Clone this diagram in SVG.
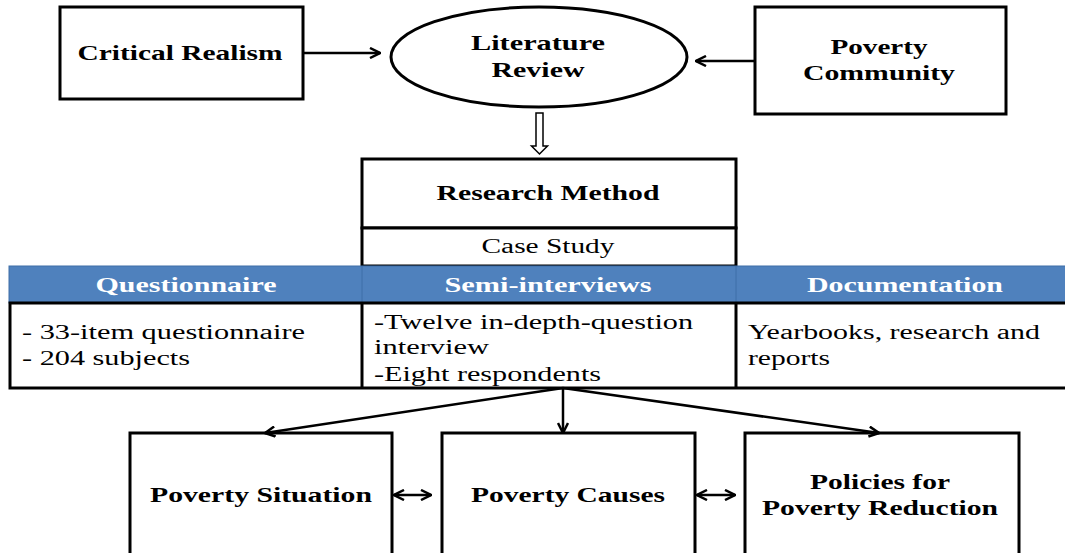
<svg xmlns="http://www.w3.org/2000/svg" width="1065" height="553" viewBox="0 0 1065 553" font-family="Liberation Serif, DejaVu Serif, serif">
  <defs>
    <style>
      .box { fill: #ffffff; stroke: #000000; stroke-width: 3; }
      .ln { fill: none; stroke: #000000; stroke-width: 2.5; }
      .tb { font-weight: bold; font-size: 21px; fill: #000000; }
      .tn { font-size: 20px; fill: #000000; }
      .th { font-weight: bold; font-size: 21px; fill: #ffffff; }
    </style>
    <marker id="arr" viewBox="0 0 12 12" refX="11" refY="6" markerWidth="12" markerHeight="12" markerUnits="userSpaceOnUse" orient="auto-start-reverse">
      <path d="M1,1 L11,6 L1,11" fill="none" stroke="#000000" stroke-width="2.5"/>
    </marker>
  </defs>
  <rect width="1065" height="553" fill="#ffffff"/>

  <g id="critical-realism">
    <rect class="box" x="60" y="7" width="243" height="92"/>
    <text class="tb" x="180" y="60" text-anchor="middle" textLength="205" lengthAdjust="spacingAndGlyphs" font-family="Liberation Serif, serif">Critical Realism</text>
  </g>

  <g id="literature-review">
    <ellipse class="box" cx="539" cy="57" rx="148" ry="50"/>
    <text class="tb" x="538" y="50" text-anchor="middle" textLength="134" lengthAdjust="spacingAndGlyphs">Literature</text>
    <text class="tb" x="538" y="77" text-anchor="middle" textLength="93" lengthAdjust="spacingAndGlyphs">Review</text>
  </g>

  <g id="poverty-community">
    <rect class="box" x="755" y="7" width="251" height="107"/>
    <text class="tb" x="879" y="54" text-anchor="middle" textLength="97" lengthAdjust="spacingAndGlyphs">Poverty</text>
    <text class="tb" x="879" y="80" text-anchor="middle" textLength="152" lengthAdjust="spacingAndGlyphs">Community</text>
  </g>

  <g id="research-method">
    <rect class="box" x="362" y="159" width="374" height="69"/>
    <text class="tb" x="548" y="200" text-anchor="middle" textLength="223" lengthAdjust="spacingAndGlyphs">Research Method</text>
    <rect class="box" x="362" y="228" width="374" height="38"/>
    <text class="tn" x="548" y="253" text-anchor="middle" textLength="133" lengthAdjust="spacingAndGlyphs">Case Study</text>
  </g>

  <g id="methods-table">
    <rect x="9" y="266" width="1066" height="37" fill="#4f81bd" stroke="#3f6fa8" stroke-width="1"/>
    <line x1="362" y1="266" x2="362" y2="303" stroke="#3f6fa8" stroke-width="1"/>
    <line x1="736" y1="266" x2="736" y2="303" stroke="#3f6fa8" stroke-width="1"/>
    <text class="th" x="186" y="292" text-anchor="middle" textLength="181" lengthAdjust="spacingAndGlyphs">Questionnaire</text>
    <text class="th" x="548" y="292" text-anchor="middle" textLength="207" lengthAdjust="spacingAndGlyphs">Semi-interviews</text>
    <text class="th" x="905" y="292" text-anchor="middle" textLength="196" lengthAdjust="spacingAndGlyphs">Documentation</text>
    <rect class="box" x="10" y="303" width="1070" height="85"/>
    <line x1="362" y1="303" x2="362" y2="388" stroke="#000" stroke-width="3"/>
    <line x1="736" y1="303" x2="736" y2="388" stroke="#000" stroke-width="3"/>
    <text class="tn" x="22" y="339" textLength="283" lengthAdjust="spacingAndGlyphs">- 33-item questionnaire</text>
    <text class="tn" x="22" y="365" textLength="168" lengthAdjust="spacingAndGlyphs">- 204 subjects</text>
    <text class="tn" x="374" y="329" textLength="319" lengthAdjust="spacingAndGlyphs">-Twelve in-depth-question</text>
    <text class="tn" x="374" y="354" textLength="115" lengthAdjust="spacingAndGlyphs">interview</text>
    <text class="tn" x="374" y="381" textLength="227" lengthAdjust="spacingAndGlyphs">-Eight respondents</text>
    <text class="tn" x="748" y="339" textLength="292" lengthAdjust="spacingAndGlyphs">Yearbooks, research and</text>
    <text class="tn" x="748" y="365" textLength="82" lengthAdjust="spacingAndGlyphs">reports</text>
  </g>

  <g id="poverty-situation">
    <rect class="box" x="130" y="433" width="262" height="140"/>
    <text class="tb" x="261" y="502" text-anchor="middle" textLength="222" lengthAdjust="spacingAndGlyphs">Poverty Situation</text>
  </g>

  <g id="poverty-causes">
    <rect class="box" x="442" y="433" width="253" height="140"/>
    <text class="tb" x="568" y="502" text-anchor="middle" textLength="194" lengthAdjust="spacingAndGlyphs">Poverty Causes</text>
  </g>

  <g id="policies">
    <rect class="box" x="745" y="433" width="274" height="140"/>
    <text class="tb" x="880" y="489" text-anchor="middle" textLength="140" lengthAdjust="spacingAndGlyphs">Policies for</text>
    <text class="tb" x="880" y="515" text-anchor="middle" textLength="236" lengthAdjust="spacingAndGlyphs">Poverty Reduction</text>
  </g>

  <g id="connectors">
    <line class="ln" x1="303" y1="53" x2="380" y2="53" marker-end="url(#arr)"/>
    <line class="ln" x1="755" y1="61" x2="696" y2="61" marker-end="url(#arr)"/>
    <path d="M536,113 H543 V146 H547.5 L539.5,154 L531.5,146 H536 Z" fill="#ffffff" stroke="#000000" stroke-width="1.5"/>
    <line class="ln" x1="563" y1="388" x2="265" y2="433" marker-end="url(#arr)"/>
    <line class="ln" x1="563" y1="388" x2="563" y2="433" marker-end="url(#arr)"/>
    <line class="ln" x1="563" y1="388" x2="879" y2="433" marker-end="url(#arr)"/>
    <line class="ln" x1="394" y1="495" x2="431" y2="495" marker-start="url(#arr)" marker-end="url(#arr)"/>
    <line class="ln" x1="697" y1="495" x2="735" y2="495" marker-start="url(#arr)" marker-end="url(#arr)"/>
  </g>
</svg>
